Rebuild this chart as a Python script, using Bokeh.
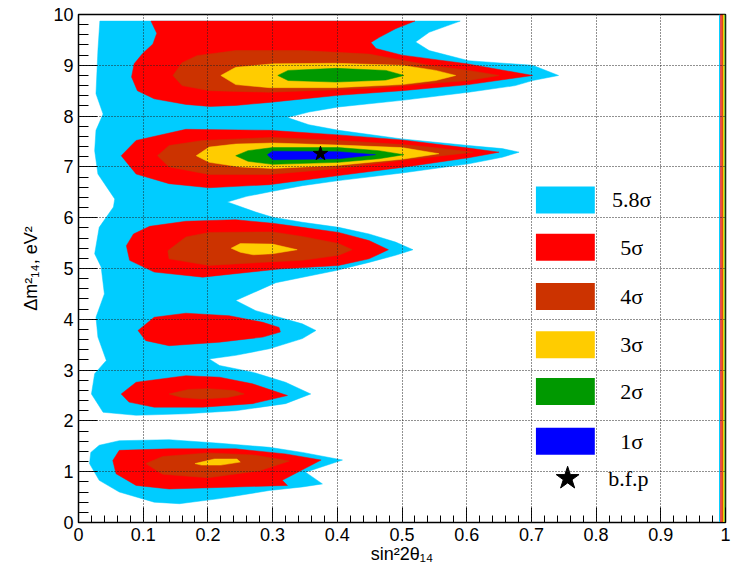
import numpy as np
from bokeh.plotting import figure
from bokeh.models import Range1d, FixedTicker
from bokeh.embed import file_html
from bokeh.resources import INLINE
from bokeh.core.properties import value

# ---------------- data ----------------
x_ticks = [0.0, 0.1, 0.2, 0.3, 0.4, 0.5, 0.6, 0.7, 0.8, 0.9, 1.0]
x_tick_labels = ["0", "0.1", "0.2", "0.3", "0.4", "0.5", "0.6", "0.7", "0.8", "0.9", "1"]
y_ticks = [0, 1, 2, 3, 4, 5, 6, 7, 8, 9, 10]
y_tick_labels = ["0", "1", "2", "3", "4", "5", "6", "7", "8", "9", "10"]

x_title = "sin²2θ₁₄"
y_title = "Δm²₁₄, eV²"

level_names = ["5.8σ", "5σ", "4σ", "3σ", "2σ", "1σ"]
level_colors = ["#00CCFF", "#FF0000", "#CC3300", "#FFCC00", "#009900", "#0000FF"]
bfp_name = "b.f.p"

# best fit point
bfp_x = [0.374]
bfp_y = [7.26]

# 5.8 sigma (cyan) regions
cyan_main_x = [0.033, 0.59, 0.542, 0.521, 0.542, 0.603, 0.702, 0.742, 0.702, 0.675, 0.603, 0.50,
               0.402, 0.356, 0.323, 0.356, 0.402, 0.50, 0.603, 0.655, 0.681, 0.655, 0.603, 0.50,
               0.402, 0.346, 0.30, 0.26, 0.23, 0.274, 0.30, 0.346, 0.402, 0.449, 0.49, 0.517,
               0.49, 0.449, 0.398, 0.305, 0.243, 0.274, 0.31, 0.346, 0.367, 0.346, 0.295, 0.243,
               0.202, 0.218, 0.269, 0.32, 0.359, 0.32, 0.243, 0.166, 0.089, 0.038, 0.020, 0.025,
               0.043, 0.030, 0.027, 0.040, 0.035, 0.025, 0.032, 0.054, 0.056, 0.030, 0.025, 0.027,
               0.038, 0.027, 0.030]
cyan_main_y = [9.87, 9.87, 9.65, 9.46, 9.29, 9.09, 9.00, 8.80, 8.70, 8.60, 8.47, 8.31,
               8.18, 8.08, 7.97, 7.83, 7.72, 7.55, 7.42, 7.36, 7.29, 7.19, 7.06, 6.88,
               6.73, 6.63, 6.52, 6.42, 6.31, 6.11, 6.01, 5.91, 5.81, 5.68, 5.52, 5.37,
               5.26, 5.12, 4.96, 4.72, 4.37, 4.17, 4.04, 3.91, 3.78, 3.62, 3.42, 3.29,
               3.22, 3.09, 2.96, 2.76, 2.53, 2.34, 2.20, 2.14, 2.11, 2.17, 2.53, 2.93,
               3.19, 3.65, 4.04, 4.50, 5.03, 5.29, 5.81, 6.21, 6.37, 6.86, 7.32, 7.72,
               8.04, 8.44, 9.29]
cyan_low_x = [0.019, 0.032, 0.063, 0.14, 0.218, 0.295, 0.346, 0.408, 0.351, 0.377, 0.346, 0.295,
              0.218, 0.156, 0.117, 0.063, 0.032, 0.017]
cyan_low_y = [1.38, 1.52, 1.61, 1.63, 1.56, 1.48, 1.38, 1.23, 0.99, 0.76, 0.70, 0.63,
              0.47, 0.37, 0.40, 0.60, 0.83, 1.16]

# 5 sigma (red) regions
red_top_x = [0.112, 0.52, 0.49, 0.465, 0.452, 0.46, 0.50, 0.60, 0.702, 0.603, 0.50, 0.402,
             0.295, 0.243, 0.203, 0.166, 0.117, 0.091, 0.082, 0.086, 0.099, 0.115, 0.121]
red_top_y = [9.87, 9.87, 9.72, 9.55, 9.45, 9.33, 9.20, 9.03, 8.80, 8.62, 8.50, 8.41,
             8.27, 8.21, 8.19, 8.23, 8.34, 8.50, 8.77, 9.03, 9.23, 9.42, 9.63]
red_72_x = [0.066, 0.089, 0.166, 0.295, 0.402, 0.50, 0.603, 0.65, 0.603, 0.50, 0.402, 0.295,
            0.202, 0.14, 0.089]
red_72_y = [7.22, 7.52, 7.74, 7.72, 7.63, 7.53, 7.37, 7.29, 7.18, 6.99, 6.83, 6.65,
            6.59, 6.67, 6.86]
red_54_x = [0.074, 0.085, 0.11, 0.166, 0.243, 0.30, 0.346, 0.402, 0.449, 0.479, 0.449, 0.402,
            0.31, 0.192, 0.117, 0.079]
red_54_y = [5.45, 5.68, 5.83, 5.93, 5.96, 5.89, 5.81, 5.71, 5.55, 5.37, 5.19, 5.06,
            4.99, 4.83, 4.93, 5.16]
red_38_x = [0.092, 0.117, 0.166, 0.233, 0.285, 0.31, 0.312, 0.285, 0.218, 0.14, 0.104]
red_38_y = [3.78, 4.04, 4.12, 4.07, 3.94, 3.84, 3.75, 3.65, 3.55, 3.48, 3.58]
red_25_x = [0.066, 0.089, 0.166, 0.218, 0.269, 0.323, 0.269, 0.192, 0.117, 0.078]
red_25_y = [2.53, 2.76, 2.89, 2.86, 2.73, 2.50, 2.34, 2.27, 2.27, 2.37]
red_low_x = [0.053, 0.063, 0.14, 0.243, 0.32, 0.375, 0.315, 0.323, 0.243, 0.14, 0.089, 0.058]
red_low_y = [1.22, 1.42, 1.45, 1.45, 1.35, 1.23, 0.83, 0.73, 0.70, 0.66, 0.73, 0.96]

# 4 sigma (brown) regions
brown_top_x = [0.146, 0.16, 0.183, 0.243, 0.346, 0.449, 0.50, 0.542, 0.603, 0.65, 0.603, 0.542,
               0.464, 0.398, 0.295, 0.203, 0.16]
brown_top_y = [8.80, 9.05, 9.19, 9.29, 9.29, 9.22, 9.10, 9.00, 8.90, 8.80, 8.70, 8.64,
               8.56, 8.52, 8.47, 8.50, 8.60]
brown_72_x = [0.122, 0.14, 0.192, 0.30, 0.402, 0.50, 0.542, 0.61, 0.542, 0.50, 0.402, 0.295,
              0.202, 0.14]
brown_72_y = [7.22, 7.42, 7.52, 7.58, 7.52, 7.44, 7.39, 7.29, 7.19, 7.13, 6.97, 6.85,
              6.85, 7.00]
brown_54_x = [0.138, 0.166, 0.202, 0.30, 0.346, 0.402, 0.423, 0.402, 0.346, 0.31, 0.202, 0.14]
brown_54_y = [5.35, 5.62, 5.71, 5.72, 5.63, 5.49, 5.37, 5.26, 5.16, 5.14, 5.06, 5.19]
brown_25_x = [0.14, 0.17, 0.20, 0.24, 0.256, 0.23, 0.19, 0.16]
brown_25_y = [2.53, 2.62, 2.635, 2.60, 2.53, 2.46, 2.43, 2.46]
brown_low_x = [0.104, 0.13, 0.20, 0.27, 0.326, 0.28, 0.20, 0.13]
brown_low_y = [1.16, 1.30, 1.37, 1.33, 1.21, 1.02, 0.88, 0.95]

# 3 sigma (yellow) regions
yellow_top_x = [0.22, 0.243, 0.301, 0.398, 0.50, 0.552, 0.583, 0.552, 0.50, 0.398, 0.295, 0.243]
yellow_top_y = [8.80, 8.96, 9.03, 9.04, 9.00, 8.90, 8.80, 8.70, 8.62, 8.56, 8.56, 8.62]
yellow_72_x = [0.182, 0.202, 0.243, 0.30, 0.402, 0.50, 0.557, 0.50, 0.40, 0.30, 0.25, 0.202]
yellow_72_y = [7.22, 7.39, 7.45, 7.47, 7.43, 7.38, 7.26, 7.15, 7.03, 6.97, 7.00, 7.09]
yellow_54_x = [0.236, 0.25, 0.30, 0.338, 0.30, 0.27, 0.25]
yellow_54_y = [5.40, 5.49, 5.48, 5.37, 5.29, 5.27, 5.32]
yellow_low_x = [0.18, 0.20, 0.21, 0.245, 0.25, 0.22, 0.19]
yellow_low_y = [1.16, 1.22, 1.25, 1.25, 1.19, 1.13, 1.13]

# 2 sigma (green) regions
green_top_x = [0.308, 0.324, 0.398, 0.475, 0.503, 0.475, 0.398, 0.324]
green_top_y = [8.80, 8.90, 8.94, 8.90, 8.80, 8.71, 8.67, 8.70]
green_72_x = [0.243, 0.262, 0.30, 0.402, 0.464, 0.503, 0.464, 0.402, 0.30, 0.262]
green_72_y = [7.22, 7.32, 7.38, 7.38, 7.32, 7.24, 7.16, 7.09, 7.05, 7.11]

# 1 sigma (blue) region
blue_72_x = [0.292, 0.30, 0.402, 0.459, 0.402, 0.30]
blue_72_y = [7.24, 7.31, 7.30, 7.24, 7.16, 7.14]

# thin coloured strip at the right edge of the histogram (last bin column)
edge_strip_colors = ["#00CCFF", "#FF0000", "#CC3300", "#FFCC00", "#66CC33"]

# ---------------- figure ----------------
p = figure(width=731, height=573, x_range=Range1d(0, 1), y_range=Range1d(0, 10),
           output_backend="svg", toolbar_location=None,
           min_border_left=78, min_border_right=6, min_border_top=14, min_border_bottom=51,
           background_fill_color="white", border_fill_color="white")

regions = [
    (level_colors[0], [(cyan_main_x, cyan_main_y), (cyan_low_x, cyan_low_y)]),
    (level_colors[1], [(red_top_x, red_top_y), (red_72_x, red_72_y), (red_54_x, red_54_y),
                       (red_38_x, red_38_y), (red_25_x, red_25_y), (red_low_x, red_low_y)]),
    (level_colors[2], [(brown_top_x, brown_top_y), (brown_72_x, brown_72_y), (brown_54_x, brown_54_y),
                       (brown_25_x, brown_25_y), (brown_low_x, brown_low_y)]),
    (level_colors[3], [(yellow_top_x, yellow_top_y), (yellow_72_x, yellow_72_y),
                       (yellow_54_x, yellow_54_y), (yellow_low_x, yellow_low_y)]),
    (level_colors[4], [(green_top_x, green_top_y), (green_72_x, green_72_y)]),
    (level_colors[5], [(blue_72_x, blue_72_y)]),
]
for color, polys in regions:
    p.patches(xs=[a for a, b in polys], ys=[b for a, b in polys],
              fill_color=color, line_color=color, line_width=0.5)

# edge strip
n = len(edge_strip_colors)
strip_w = 0.010 / n
p.quad(left=[0.990 + i * strip_w for i in range(n)],
       right=[0.990 + (i + 1) * strip_w for i in range(n)],
       bottom=[y_ticks[0]] * n, top=[y_ticks[-1]] * n,
       fill_color=edge_strip_colors, line_color=None)

# best fit point
p.scatter(x=bfp_x, y=bfp_y, marker="star", size=15, fill_color="black", line_color="black")

# legend (drawn inside the frame)
leg_y = [6.35, 5.42, 4.45, 3.50, 2.58, 1.60]
leg_star_y = 0.87
box_l, box_r, box_h = 0.707, 0.798, 0.53
p.quad(left=[box_l] * 6, right=[box_r] * 6,
       bottom=[y - box_h / 2 for y in leg_y], top=[y + box_h / 2 for y in leg_y],
       fill_color=level_colors, line_color=None)
p.text(x=[0.855] * 6, y=leg_y, text=level_names, text_align="center", text_baseline="middle",
       text_font=value("Liberation Serif"), text_font_size=value("22px"), text_color="black")
p.scatter(x=[0.756], y=[leg_star_y], marker="star", size=24, fill_color="black", line_color="black")
p.text(x=[0.850], y=[leg_star_y], text=[bfp_name], text_align="center", text_baseline="middle",
       text_font=value("Liberation Serif"), text_font_size=value("22px"), text_color="black")

# axes
xt = FixedTicker(ticks=x_ticks, minor_ticks=list(np.round(np.arange(0, 1.0001, 0.02), 4)))
yt = FixedTicker(ticks=y_ticks, minor_ticks=list(np.round(np.arange(0, 10.0001, 0.2), 4)))
p.xaxis.ticker = xt
p.yaxis.ticker = yt
p.xaxis.major_label_overrides = {float(t): s for t, s in zip(x_ticks, x_tick_labels)}
p.yaxis.major_label_overrides = {float(t): s for t, s in zip(y_ticks, y_tick_labels)}

for ax in (p.xaxis[0], p.yaxis[0]):
    ax.major_tick_out = 0
    ax.minor_tick_out = 0
    ax.axis_line_color = "black"
    ax.major_tick_line_color = "black"
    ax.minor_tick_line_color = "black"
    ax.major_label_text_font = "Liberation Sans"
    ax.major_label_text_font_size = "18px"
    ax.major_label_text_color = "black"
    ax.axis_label_text_font = "Liberation Sans"
    ax.axis_label_text_font_size = "18px"
    ax.axis_label_text_font_style = "normal"
    ax.axis_label_text_color = "black"

p.xaxis.major_label_standoff = 5
p.yaxis.major_label_standoff = 5
p.xaxis.major_tick_in = 15
p.xaxis.minor_tick_in = 7
p.yaxis.major_tick_in = 19
p.yaxis.minor_tick_in = 10
p.xaxis.axis_label = x_title
p.yaxis.axis_label = y_title
p.xaxis.axis_label_standoff = 0
p.yaxis.axis_label_standoff = 9

p.xgrid.ticker = xt
p.ygrid.ticker = yt
for g in (p.xgrid[0], p.ygrid[0]):
    g.grid_line_color = "#222222"
    g.grid_line_dash = "1 2"
    g.grid_line_width = 1
    g.level = "annotation"

p.outline_line_color = "black"
p.outline_line_width = 1.5

open("out.html", "w").write(file_html(p, INLINE))
